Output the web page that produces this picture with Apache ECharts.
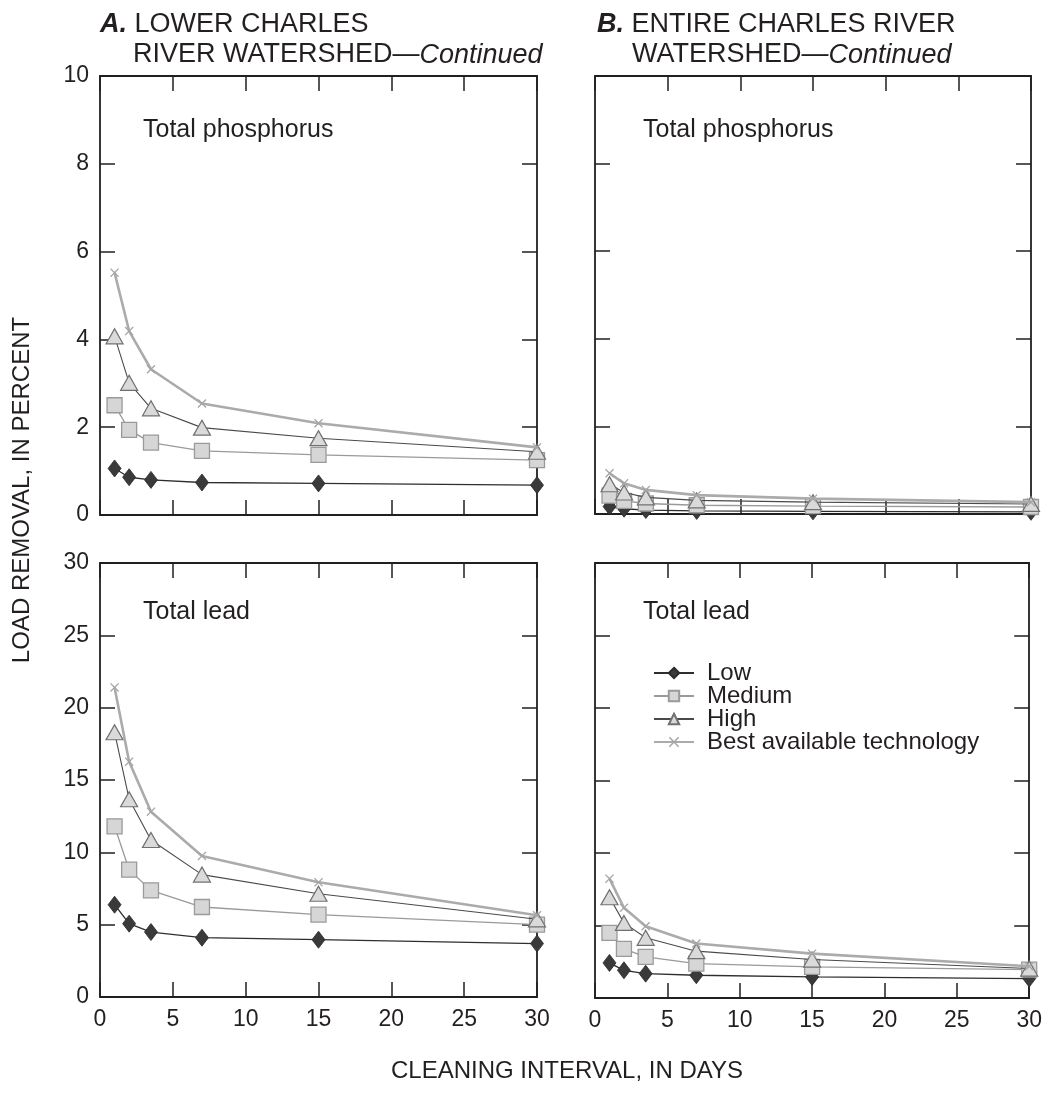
<!DOCTYPE html>
<html>
<head>
<meta charset="utf-8">
<script src="https://cdn.jsdelivr.net/npm/echarts@6/dist/echarts.min.js"></script>
<style>
  html, body { margin: 0; padding: 0; background: #fff; }
  #chart { width: 1045px; height: 1099px; }
</style>
</head>
<body>
<div id="chart"></div>
<script>
// ---------------- data ----------------
const xDays = [1, 2, 3.5, 7, 15, 30];
const seriesNames = ['Low', 'Medium', 'High', 'Best available technology'];

// A. Lower Charles — total phosphorus
const phosA_low  = [1.06, 0.86, 0.80, 0.74, 0.72, 0.68];
const phosA_med  = [2.50, 1.94, 1.65, 1.46, 1.37, 1.25];
const phosA_high = [4.07, 3.01, 2.43, 1.99, 1.75, 1.44];
const phosA_bat  = [5.52, 4.19, 3.32, 2.54, 2.09, 1.54];

// B. Entire Charles — total phosphorus
const phosB_low  = [0.17, 0.12, 0.09, 0.07, 0.06, 0.05];
const phosB_med  = [0.42, 0.30, 0.24, 0.20, 0.18, 0.16];
const phosB_high = [0.68, 0.49, 0.38, 0.31, 0.27, 0.23];
const phosB_bat  = [0.93, 0.70, 0.55, 0.43, 0.35, 0.27];

// A. Lower Charles — total lead
const leadA_low  = [6.38, 5.07, 4.49, 4.10, 3.96, 3.69];
const leadA_med  = [11.8, 8.8, 7.37, 6.22, 5.69, 5.00];
const leadA_high = [18.3, 13.67, 10.85, 8.46, 7.14, 5.37];
const leadA_bat  = [21.4, 16.27, 12.81, 9.75, 7.93, 5.65];

// B. Entire Charles — total lead
const leadB_low  = [2.42, 1.91, 1.68, 1.57, 1.45, 1.34];
const leadB_med  = [4.49, 3.39, 2.83, 2.37, 2.14, 1.96];
const leadB_high = [6.95, 5.18, 4.15, 3.23, 2.65, 2.03];
const leadB_bat  = [8.23, 6.22, 4.95, 3.76, 3.06, 2.19];

const xTicks = [0, 5, 10, 15, 20, 25, 30];
const yPhosTicks = [0, 2, 4, 6, 8, 10];
const yLeadTicks = [0, 5, 10, 15, 20, 25, 30];

// ---------------- styling ----------------
const FONT = '"Liberation Sans", Arial, Helvetica, sans-serif';
const INK = '#231f20';
const crossPath = 'path://M0,1 L1,0 L5,4 L9,0 L10,1 L6,5 L10,9 L9,10 L5,6 L1,10 L0,9 L4,5 Z';

const styles = {
  'Low': {
    symbol: 'diamond', symbolSize: [13, 17],
    lineStyle: { color: '#2e2e2e', width: 1.3 },
    itemStyle: { color: '#3a3a3a', borderColor: '#2a2a2a', borderWidth: 0.8 }
  },
  'Medium': {
    symbol: 'rect', symbolSize: 15,
    lineStyle: { color: '#9a9a9a', width: 1.3 },
    itemStyle: { color: '#d6d6d6', borderColor: '#9a9a9a', borderWidth: 1.3 }
  },
  'High': {
    symbol: 'triangle', symbolSize: [17, 15],
    lineStyle: { color: '#4a4a4a', width: 1.1 },
    itemStyle: { color: '#dadada', borderColor: '#707070', borderWidth: 1.2 }
  },
  'Best available technology': {
    symbol: crossPath, symbolSize: 9,
    lineStyle: { color: '#ababab', width: 2.6 },
    itemStyle: { color: '#a5a5a5' }
  }
};

const grids = [
  { left: 100, top: 76, width: 437, height: 439 },   // TL
  { left: 595, top: 76, width: 436, height: 438 },   // TR
  { left: 100, top: 563, width: 437, height: 434 },  // BL
  { left: 595, top: 563, width: 436, height: 435 }   // BR
];

const panels = [
  { data: [phosA_low, phosA_med, phosA_high, phosA_bat], yMax: 10, yInt: 2, xLabels: false, yLabels: true },
  { data: [phosB_low, phosB_med, phosB_high, phosB_bat], yMax: 10, yInt: 2, xLabels: false, yLabels: false },
  { data: [leadA_low, leadA_med, leadA_high, leadA_bat], yMax: 30, yInt: 5, xLabels: true, yLabels: true },
  { data: [leadB_low, leadB_med, leadB_high, leadB_bat], yMax: 30, yInt: 5, xLabels: true, yLabels: false }
];

const axisLine = { show: true, onZero: false, lineStyle: { color: INK, width: 1.8 } };
const axisTick = { show: true, inside: true, length: 15, lineStyle: { color: INK, width: 1.5 } };
const labelStyle = { color: INK, fontSize: 23, fontFamily: FONT };

const xAxes = [], yAxes = [], series = [];
panels.forEach((p, gi) => {
  xAxes.push({
    type: 'value', gridIndex: gi, position: 'bottom', min: 0, max: 30, interval: 5,
    axisLine, axisTick, splitLine: { show: false },
    axisLabel: Object.assign({ show: p.xLabels, margin: 11 }, labelStyle)
  });
  xAxes.push({
    type: 'value', gridIndex: gi, position: 'top', min: 0, max: 30, interval: 5,
    axisLine, axisTick, splitLine: { show: false }, axisLabel: { show: false }
  });
  yAxes.push({
    type: 'value', gridIndex: gi, position: 'left', min: 0, max: p.yMax, interval: p.yInt,
    axisLine, axisTick, splitLine: { show: false },
    axisLabel: Object.assign({ show: p.yLabels, margin: 11 }, labelStyle)
  });
  yAxes.push({
    type: 'value', gridIndex: gi, position: 'right', min: 0, max: p.yMax, interval: p.yInt,
    axisLine, axisTick, splitLine: { show: false }, axisLabel: { show: false }
  });
  [3, 2, 1, 0].forEach(si => {
    const name = seriesNames[si];
    const st = styles[name];
    series.push({
      name, type: 'line', xAxisIndex: gi * 2, yAxisIndex: gi * 2,
      data: xDays.map((x, k) => [x, p.data[si][k]]),
      symbol: st.symbol, symbolSize: st.symbolSize,
      lineStyle: st.lineStyle, itemStyle: st.itemStyle,
      showAllSymbol: true, animation: false, silent: true, z: 3 + si
    });
  });
});

const HS = 27;
const headingRich = {
  b: { fontSize: HS, fontWeight: 'bold', fontStyle: 'italic', fontFamily: FONT, fill: INK },
  i: { fontSize: HS, fontStyle: 'italic', fontFamily: FONT, fill: INK },
  n: { fontSize: HS, fontFamily: FONT, fill: INK }
};
function txt(x, y, text, size, extra) {
  return Object.assign({
    type: 'text', x, y,
    style: { text, fontSize: size, fontFamily: FONT, fill: INK, textVerticalAlign: 'middle' }
  }, extra || {});
}

const graphics = [
  { type: 'text', x: 100, y: 25, style: { text: '{b|A.}{n| LOWER CHARLES}', rich: headingRich, textVerticalAlign: 'middle' } },
  { type: 'text', x: 133, y: 55, style: { text: '{n|RIVER WATERSHED—}{i|Continued}', rich: headingRich, textVerticalAlign: 'middle' } },
  { type: 'text', x: 597, y: 25, style: { text: '{b|B.}{n| ENTIRE CHARLES RIVER}', rich: headingRich, textVerticalAlign: 'middle' } },
  { type: 'text', x: 632, y: 55, style: { text: '{n|WATERSHED—}{i|Continued}', rich: headingRich, textVerticalAlign: 'middle' } },
  txt(143, 130, 'Total phosphorus', 25),
  txt(643, 130, 'Total phosphorus', 25),
  txt(143, 612, 'Total lead', 25),
  txt(643, 612, 'Total lead', 25),
  { type: 'text', x: 567, y: 1071, style: { text: 'CLEANING INTERVAL, IN DAYS', fontSize: 24, fontFamily: FONT, fill: INK, textAlign: 'center', textVerticalAlign: 'middle' } },
  { type: 'text', x: 22, y: 490, rotation: Math.PI / 2, style: { text: 'LOAD REMOVAL, IN PERCENT', fontSize: 24, fontFamily: FONT, fill: INK, textAlign: 'center', textVerticalAlign: 'middle' } }
];

const chart = echarts.init(document.getElementById('chart'), null, { renderer: 'canvas' });
chart.setOption({
  backgroundColor: '#ffffff',
  animation: false,
  grid: grids.map(g => Object.assign({ containLabel: false }, g)),
  xAxis: xAxes,
  yAxis: yAxes,
  series,
  legend: {
    data: seriesNames,
    orient: 'vertical',
    left: 653, top: 661, padding: 0,
    itemWidth: 40, itemHeight: 13, itemGap: -1,
    textStyle: { color: INK, fontSize: 24, fontFamily: FONT, lineHeight: 20, padding: [0, 0, 0, 8] },
    selectedMode: false
  },
  graphic: graphics
});
</script>
</body>
</html>
